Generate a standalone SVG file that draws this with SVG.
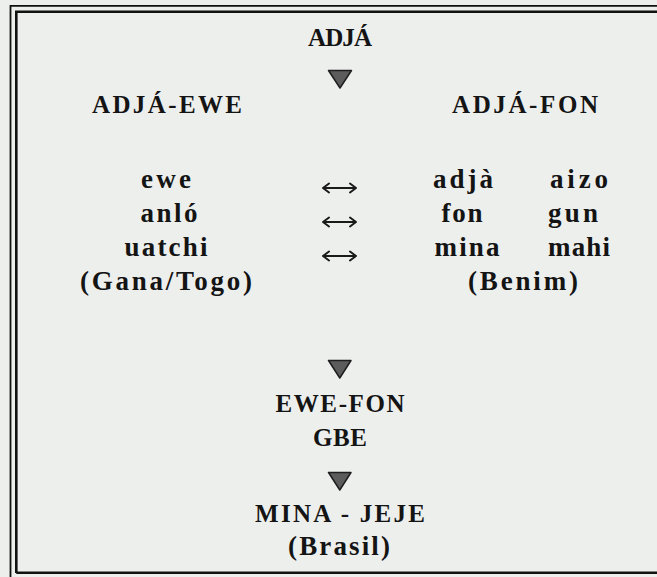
<svg xmlns="http://www.w3.org/2000/svg" width="657" height="577" viewBox="0 0 657 577">
<style>
text{font-family:"Liberation Serif","Times New Roman",serif;font-weight:bold;font-size:25px;fill:#141414;text-anchor:middle}
.lc{font-size:27px}
.tri{fill:#5c5c5c;stroke:#1e1e1e;stroke-width:1.5;stroke-linejoin:round}
.arr{fill:none;stroke:#1a1a1a;stroke-width:2;stroke-linecap:round;stroke-linejoin:round}
.frame{fill:none;stroke:#111}
</style>
<rect width="657" height="577" fill="#edefed"/>
<g id="frame">
<path class="frame" d="M10.5,577 V5.8 H657" stroke-width="1.8"/>
<path class="frame" d="M16.3,573 V11.8 H657 M16.3,572.8 H657" stroke-width="2.6"/>
</g>
<g id="connectors">
<path class="tri" d="M328.5,70.5 H351.5 L340,88 Z"/>
<path class="tri" d="M328.5,360.5 H351 L339.8,378 Z"/>
<path class="tri" d="M328.5,472.5 H351 L339.8,490 Z"/>
<path class="arr" d="M323,188 H356 M329,183.5 L323,188 L329,192.5 M350,183.5 L356,188 L350,192.5"/>
<path class="arr" d="M323,222 H356 M329,217.5 L323,222 L329,226.5 M350,217.5 L356,222 L350,226.5"/>
<path class="arr" d="M323,256 H356 M329,251.5 L323,256 L329,260.5 M350,251.5 L356,256 L350,260.5"/>
</g>
<g id="n-adja"><text x="340" y="46" textLength="64" lengthAdjust="spacing">ADJÁ</text></g>
<g id="n-adja-ewe"><text x="167" y="113" textLength="150" lengthAdjust="spacing">ADJÁ-EWE</text></g>
<g id="n-adja-fon"><text x="525" y="113" textLength="146" lengthAdjust="spacing">ADJÁ-FON</text></g>
<g id="n-ewe-group">
<text class="lc" x="166" y="188" textLength="50" lengthAdjust="spacing">ewe</text>
<text class="lc" x="169" y="222" textLength="57" lengthAdjust="spacing">anló</text>
<text class="lc" x="166" y="256" textLength="83" lengthAdjust="spacing">uatchi</text>
<text class="lc" x="166" y="290" textLength="172" lengthAdjust="spacing">(Gana/Togo)</text>
</g>
<g id="n-fon-group">
<text class="lc" x="463" y="188" textLength="60" lengthAdjust="spacing">adjà</text>
<text class="lc" x="579" y="188" textLength="58" lengthAdjust="spacing">aizo</text>
<text class="lc" x="462" y="222" textLength="41" lengthAdjust="spacing">fon</text>
<text class="lc" x="573" y="222" textLength="50" lengthAdjust="spacing">gun</text>
<text class="lc" x="467" y="256" textLength="65" lengthAdjust="spacing">mina</text>
<text class="lc" x="579" y="256" textLength="62" lengthAdjust="spacing">mahi</text>
<text class="lc" x="523" y="290" textLength="110" lengthAdjust="spacing">(Benim)</text>
</g>
<g id="n-ewe-fon">
<text x="340" y="412" textLength="129" lengthAdjust="spacing">EWE-FON</text>
<text x="340" y="446" textLength="54" lengthAdjust="spacing">GBE</text>
</g>
<g id="n-mina-jeje">
<text x="340" y="522" textLength="170" lengthAdjust="spacing">MINA - JEJE</text>
<text class="lc" x="339" y="555" textLength="102" lengthAdjust="spacing">(Brasil)</text>
</g>
</svg>
